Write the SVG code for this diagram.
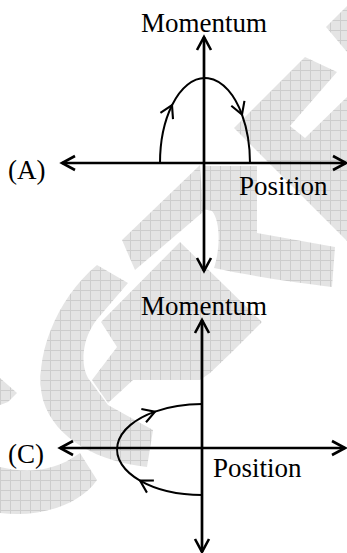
<svg xmlns="http://www.w3.org/2000/svg" width="347" height="553" viewBox="0 0 347 553">
<defs>
<style>
.ax{stroke:#000;stroke-width:2.7;fill:none}
.cv{stroke:#000;stroke-width:2;fill:none}
.t{font-family:"Liberation Serif","Times New Roman",serif;font-size:27px;fill:#000}
.wm{fill:url(#grid);stroke:none}
</style>
<pattern id="grid" patternUnits="userSpaceOnUse" width="10" height="10">
<rect width="10" height="10" fill="#e4e4e4"/>
<path d="M0,0.5H10M0.5,0V10" stroke="#cdcdcd" stroke-width="1"/>
</pattern>
<marker id="ah" markerUnits="userSpaceOnUse" markerWidth="16" markerHeight="16" refX="13" refY="7" orient="auto-start-reverse" overflow="visible">
<path d="M0,0 L13,7 L0,14" fill="none" stroke="#000" stroke-width="2.6"/>
</marker>
<marker id="ch" markerUnits="userSpaceOnUse" markerWidth="16" markerHeight="16" refX="12" refY="7" orient="auto" overflow="visible">
<path d="M0,0 L12,7 L0,14" fill="none" stroke="#000" stroke-width="2.1"/>
</marker>
</defs>
<rect width="347" height="553" fill="#fff"/>
<g id="watermark">
<path class="wm" d="M326,27 L347,6 L347,52 Z"/>
<path class="wm" d="M234,128 L305,57 L337,72 L290,126 L305,138 L347,97 L347,241 Z"/>
<path class="wm" d="M203,166 L257,166 L257,233 L335,247 L332,287 C300,283 250,276 214,268 C220,250 221,222 212,211 L203,209 Z"/>
<path class="wm" d="M200,165 L122,240 L135,270 L203,212 Z"/>
<path class="wm" d="M97,265 L128,283 L99,317 C84,334 79,360 88,378 L108,405 L153,430 L147,467 C100,462 55,440 43,400 C33,360 55,300 97,265 Z"/>
<path class="wm" d="M101,322 L180,242 L262,322 L232,352 L210,373 L200,380 L133,380 L108,403 L92,380 L117,347 Z"/>
<path class="wm" d="M0,467 C20,472 50,475 80,453 L97,480 C80,505 40,518 0,513 Z"/>
<path class="wm" d="M0,378 L17,393 L8,402 L0,405 Z"/>
</g>
<g id="plot-a">
<line class="ax" x1="204" y1="37" x2="204" y2="271" marker-start="url(#ah)" marker-end="url(#ah)"/>
<line class="ax" x1="62" y1="163" x2="346" y2="163" marker-start="url(#ah)" marker-end="url(#ah)"/>
<text class="t" x="204" y="32" text-anchor="middle">Momentum</text>
<text class="t" x="8" y="179">(A)</text>
<text class="t" x="239" y="195">Position</text>
</g>
<g id="plot-c">
<line class="ax" x1="202" y1="320" x2="202" y2="552" marker-start="url(#ah)" marker-end="url(#ah)"/>
<line class="ax" x1="60" y1="448" x2="345" y2="448" marker-start="url(#ah)" marker-end="url(#ah)"/>
<text class="t" x="204" y="315" text-anchor="middle">Momentum</text>
<text class="t" x="8" y="463">(C)</text>
<text class="t" x="213" y="477">Position</text>
</g>
<g id="connectors">
<path class="cv" d="M160,163 A45,85 0 0 1 172,105.2" marker-end="url(#ch)"/>
<path class="cv" d="M172,105.2 A45,85 0 0 1 242,114.6" marker-end="url(#ch)"/>
<path class="cv" d="M242,114.6 A45,85 0 0 1 250,163"/>
<path class="cv" d="M202,495 A85,45.5 0 0 1 140,480.6" marker-end="url(#ch)"/>
<path class="cv" d="M140,480.6 A85,45.5 0 0 1 155,411.6" marker-end="url(#ch)"/>
<path class="cv" d="M155,411.6 A85,45.5 0 0 1 202,404"/>
</g>
</svg>
